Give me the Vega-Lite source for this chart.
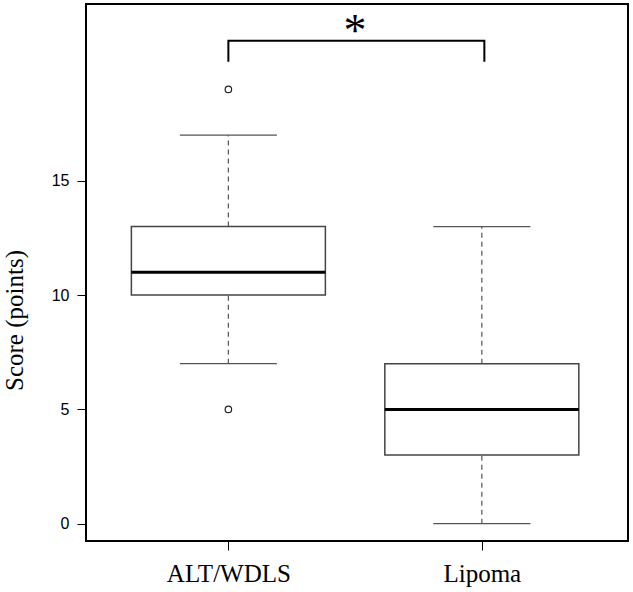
{
  "$schema": "https://vega.github.io/schema/vega-lite/v6.json",
  "width": 542,
  "height": 537,
  "autosize": {"type": "none"},
  "padding": {"left": 86, "top": 4, "right": 5, "bottom": 51},
  "background": "white",
  "config": {
    "view": {"stroke": "black", "strokeWidth": 2},
    "axis": {"grid": false, "domain": false, "tickColor": "black", "tickSize": 9, "tickWidth": 1, "labelColor": "black", "titleColor": "black"}
  },
  "datasets": {
    "boxes": [
      {"g": 1, "group": "ALT/WDLS", "lo": 7, "q1": 10, "med": 11, "q3": 13, "hi": 17},
      {"g": 2, "group": "Lipoma", "lo": 0, "q1": 3, "med": 5, "q3": 7, "hi": 13}
    ],
    "outliers": [
      {"g": 1, "v": 5},
      {"g": 1, "v": 19}
    ],
    "bracket": [
      {"i": 0, "bx": 1, "by": 20.21},
      {"i": 1, "bx": 1, "by": 21.13},
      {"i": 2, "bx": 2.01, "by": 21.13},
      {"i": 3, "bx": 2.01, "by": 20.21}
    ],
    "star": [
      {"sx": 1.5, "sy": 21.5, "t": "*"}
    ]
  },
  "layer": [
    {
      "data": {"name": "boxes"},
      "mark": {"type": "rule", "stroke": "#555555", "strokeWidth": 1.2, "strokeDash": [5, 4], "opacity": 1},
      "encoding": {
        "x": {"field": "g", "type": "quantitative", "scale": {"domain": [0.458, 2.557], "nice": false, "zero": false},
          "axis": {"values": [1, 2], "labelExpr": "datum.value == 1 ? 'ALT/WDLS' : 'Lipoma'", "labelFont": "Liberation Serif", "labelFontSize": 25, "labelPadding": 11, "title": null}},
        "y": {"field": "q3", "type": "quantitative", "scale": {"domain": [-0.76, 22.74], "nice": false, "zero": false},
          "axis": {"values": [0, 5, 10, 15], "labelFont": "Liberation Sans", "labelFontSize": 16, "labelPadding": 8, "title": "Score (points)", "titleFont": "Liberation Serif", "titleFontSize": 25, "titleFontWeight": "normal", "titleAngle": -90, "titleX": -72, "titleY": 316, "titleAlign": "center", "titleBaseline": "middle"}},
        "y2": {"field": "hi"}
      }
    },
    {
      "data": {"name": "boxes"},
      "mark": {"type": "rule", "stroke": "#555555", "strokeWidth": 1.2, "strokeDash": [5, 4], "opacity": 1},
      "encoding": {
        "x": {"field": "g", "type": "quantitative", "scale": {"domain": [0.458, 2.557], "nice": false, "zero": false}},
        "y": {"field": "lo", "type": "quantitative", "scale": {"domain": [-0.76, 22.74], "nice": false, "zero": false}},
        "y2": {"field": "q1"}
      }
    },
    {
      "data": {"name": "boxes"},
      "mark": {"type": "bar", "size": 194, "fill": "white", "stroke": "#444444", "strokeWidth": 1.5, "orient": "vertical", "opacity": 1},
      "encoding": {
        "x": {"field": "g", "type": "quantitative", "scale": {"domain": [0.458, 2.557], "nice": false, "zero": false}},
        "y": {"field": "q1", "type": "quantitative", "scale": {"domain": [-0.76, 22.74], "nice": false, "zero": false}},
        "y2": {"field": "q3"}
      }
    },
    {
      "data": {"name": "boxes"},
      "mark": {"type": "tick", "orient": "horizontal", "size": 194, "thickness": 3, "color": "black", "opacity": 1},
      "encoding": {
        "x": {"field": "g", "type": "quantitative", "scale": {"domain": [0.458, 2.557], "nice": false, "zero": false}},
        "y": {"field": "med", "type": "quantitative", "scale": {"domain": [-0.76, 22.74], "nice": false, "zero": false}}
      }
    },
    {
      "data": {"name": "boxes"},
      "mark": {"type": "tick", "orient": "horizontal", "size": 97, "thickness": 1.3, "color": "#555555", "opacity": 1},
      "encoding": {
        "x": {"field": "g", "type": "quantitative", "scale": {"domain": [0.458, 2.557], "nice": false, "zero": false}},
        "y": {"field": "hi", "type": "quantitative", "scale": {"domain": [-0.76, 22.74], "nice": false, "zero": false}}
      }
    },
    {
      "data": {"name": "boxes"},
      "mark": {"type": "tick", "orient": "horizontal", "size": 97, "thickness": 1.3, "color": "#555555", "opacity": 1},
      "encoding": {
        "x": {"field": "g", "type": "quantitative", "scale": {"domain": [0.458, 2.557], "nice": false, "zero": false}},
        "y": {"field": "lo", "type": "quantitative", "scale": {"domain": [-0.76, 22.74], "nice": false, "zero": false}}
      }
    },
    {
      "data": {"name": "outliers"},
      "mark": {"type": "point", "shape": "circle", "filled": false, "size": 42, "stroke": "#222222", "strokeWidth": 1.2, "opacity": 1},
      "encoding": {
        "x": {"field": "g", "type": "quantitative", "scale": {"domain": [0.458, 2.557], "nice": false, "zero": false}},
        "y": {"field": "v", "type": "quantitative", "scale": {"domain": [-0.76, 22.74], "nice": false, "zero": false}}
      }
    },
    {
      "data": {"name": "bracket"},
      "mark": {"type": "line", "stroke": "black", "strokeWidth": 2, "opacity": 1},
      "encoding": {
        "x": {"field": "bx", "type": "quantitative", "scale": {"domain": [0.458, 2.557], "nice": false, "zero": false}},
        "y": {"field": "by", "type": "quantitative", "scale": {"domain": [-0.76, 22.74], "nice": false, "zero": false}},
        "order": {"field": "i"}
      }
    },
    {
      "data": {"name": "star"},
      "mark": {"type": "text", "font": "Liberation Serif", "fontSize": 46, "baseline": "middle", "align": "center", "color": "black"},
      "encoding": {
        "x": {"field": "sx", "type": "quantitative", "scale": {"domain": [0.458, 2.557], "nice": false, "zero": false}},
        "y": {"field": "sy", "type": "quantitative", "scale": {"domain": [-0.76, 22.74], "nice": false, "zero": false}},
        "text": {"field": "t"}
      }
    }
  ]
}
